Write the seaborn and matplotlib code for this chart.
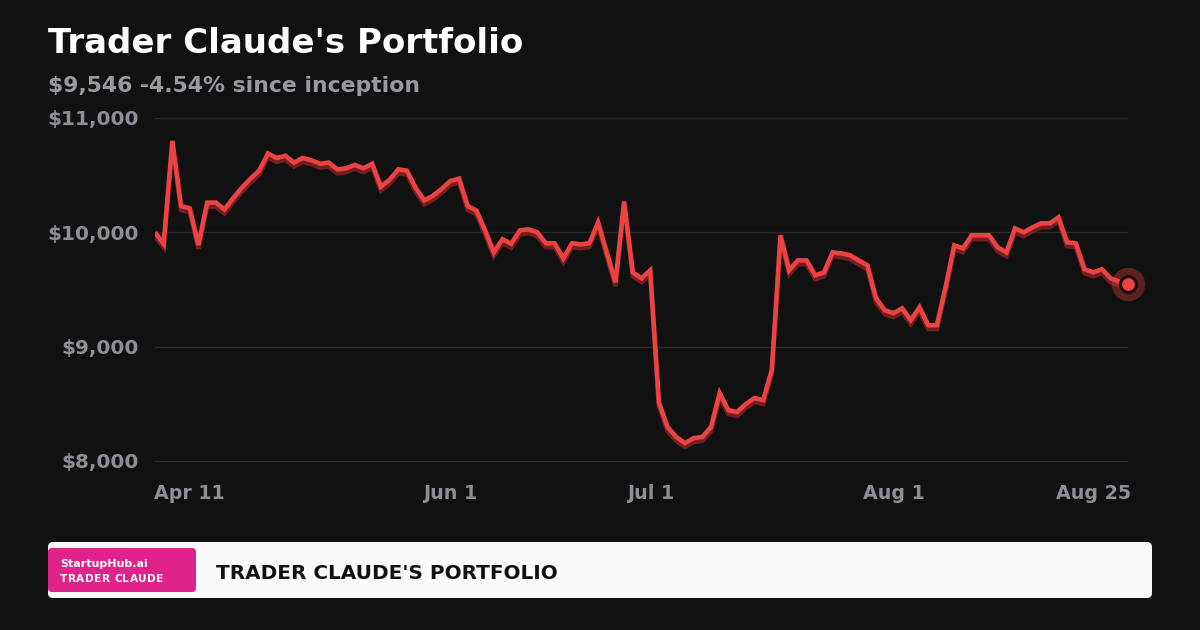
import numpy as np
import pandas as pd
import matplotlib
matplotlib.use("Agg")
import matplotlib.pyplot as plt
import matplotlib.patheffects as pe
from matplotlib.patches import FancyBboxPatch
import seaborn as sns

# ---- data ----
values = [10000, 9900, 10800, 10230, 10210, 9890, 10260, 10260, 10200, 10300,
          10390, 10470, 10540, 10690, 10650, 10670, 10610, 10650, 10630, 10600,
          10610, 10550, 10560, 10590, 10560, 10600, 10400, 10460, 10550, 10540,
          10390, 10280, 10320, 10380, 10450, 10470, 10230, 10190, 10017, 9825,
          9940, 9900, 10017, 10026, 10000, 9904, 9904, 9773, 9904, 9895,
          9904, 10087, 9825, 9563, 10270, 9650, 9598, 9668, 8515, 8297,
          8210, 8157, 8200, 8210, 8297, 8594, 8445, 8428, 8498, 8550,
          8533, 8795, 9974, 9668, 9755, 9755, 9624, 9650, 9825, 9816,
          9800, 9755, 9712, 9424, 9319, 9293, 9336, 9232, 9345, 9188,
          9188, 9520, 9886, 9860, 9974, 9974, 9974, 9869, 9825, 10035,
          10000, 10044, 10079, 10079, 10131, 9913, 9904, 9677, 9650, 9677,
          9598, 9570, 9546]
tick_labels = ["Apr 11", "Jun 1", "Jul 1", "Aug 1", "Aug 25"]
tick_index = [4, 34, 57, 85, 108]
y_ticks = [8000, 9000, 10000, 11000]
title = "Trader Claude's Portfolio"
subtitle = "$9,546 -4.54% since inception"
footer_title = "TRADER CLAUDE'S PORTFOLIO"
badge_top = "StartupHub.ai"
badge_bottom = "TRADER CLAUDE"

df = pd.DataFrame({"step": np.arange(len(values)), "value": values})

BG = "#111111"
RED = "#EB4242"
GRAY = "#8f8d95"

sns.set_theme(style="dark")
plt.rcParams["font.family"] = ["DejaVu Sans"]

W, H = 1200, 630
fig = plt.figure(figsize=(W / 100, H / 100), dpi=100, facecolor=BG)

# overlay axes in pixel coordinates
ov = fig.add_axes([0, 0, 1, 1], zorder=0)
ov.set_xlim(0, W)
ov.set_ylim(H, 0)
ov.axis("off")
ov.patch.set_alpha(0)

# main chart axes
left, right, top, bottom = 155, 1128, 118, 461
ax = fig.add_axes([left / W, 1 - (bottom + 2) / H, (right - left) / W, (bottom + 2 - top) / H], zorder=2)
ax.set_facecolor("none")

sns.lineplot(data=df, x="step", y="value", ax=ax, color=RED, linewidth=3.3,
             solid_joinstyle="miter", solid_capstyle="butt")
line = ax.lines[0]
line.set_path_effects([
    pe.SimpleLineShadow(offset=(0, -2.8), shadow_color="#7a1f22", alpha=0.95),
    pe.Normal(),
])
line.set_zorder(3)

# end marker
last_x, last_y = df["step"].iloc[-1], df["value"].iloc[-1]
ax.scatter([last_x], [last_y], s=580, color=RED, alpha=0.35, linewidths=0, zorder=4, clip_on=False)
ax.scatter([last_x], [last_y], s=130, color=RED, edgecolors="#1a0a0a", linewidths=2.2, zorder=5, clip_on=False)

ax.set_xlim(0, len(values) - 1)
ax.set_ylim(8000 - 3000 * 2 / (bottom - top), 11000)
ax.set_yticks(y_ticks)
ax.set_yticklabels([f"${v:,}" for v in y_ticks])
ax.set_xticks(tick_index)
ax.set_xticklabels(tick_labels)
ax.set_xlabel("")
ax.set_ylabel("")
for s in ax.spines.values():
    s.set_visible(False)
ax.grid(True, axis="y", color="#2a2a2a", linewidth=1)
ax.grid(False, axis="x")
ax.tick_params(axis="both", length=0, colors=GRAY)
ax.tick_params(axis="y", pad=11.5, labelsize=14.4)
ax.tick_params(axis="x", pad=15, labelsize=13.7)
for t in ax.get_xticklabels() + ax.get_yticklabels():
    t.set_fontweight("bold")
    t.set_color(GRAY)

# titles
ov.text(48, 53, title, color="white", fontsize=24.5, fontweight="bold", va="baseline", ha="left")
ov.text(48, 92, subtitle, color="#9a98a0", fontsize=15.75, fontweight="bold", va="baseline", ha="left")

# footer
ov.add_patch(FancyBboxPatch((48, 542), 1104, 56, boxstyle="round,pad=0,rounding_size=5",
                            facecolor="#fafafa", edgecolor="none"))
ov.add_patch(FancyBboxPatch((48, 548), 148, 44, boxstyle="round,pad=0,rounding_size=4",
                            facecolor="#E0228B", edgecolor="none"))
ov.text(60, 567, badge_top, color="white", fontsize=8.0, fontweight="bold", va="baseline", ha="left")

# letter-spaced badge subtitle
fig.canvas.draw()
renderer = fig.canvas.get_renderer()
xpos = 60.0
for ch in badge_bottom:
    t = ov.text(xpos, 582, ch, color="white", fontsize=7.6, fontweight="bold", va="baseline", ha="left")
    if ch == " ":
        probe = ov.text(0, 0, "a a", fontsize=7.6, fontweight="bold")
        probe2 = ov.text(0, 0, "aa", fontsize=7.6, fontweight="bold")
        w = probe.get_window_extent(renderer).width - probe2.get_window_extent(renderer).width
        probe.remove(); probe2.remove()
    else:
        w = t.get_window_extent(renderer).width
    xpos += w + 0.45

ov.text(216, 579, footer_title, color="#111111", fontsize=14.4, fontweight="bold", va="baseline", ha="left")

fig.savefig("out.png", dpi=100, facecolor=BG)
